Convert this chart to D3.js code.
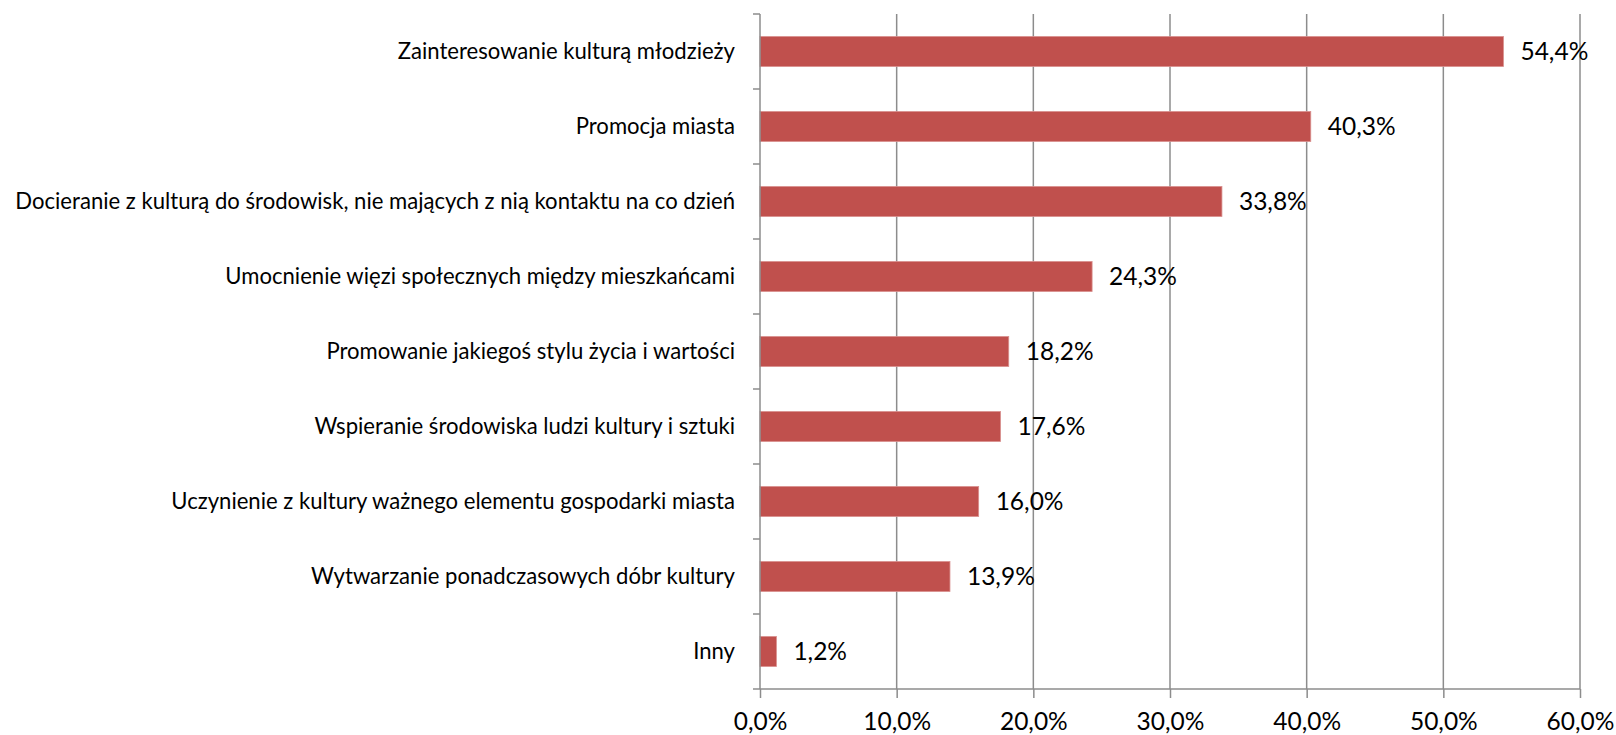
<!DOCTYPE html>
<html>
<head>
<meta charset="utf-8">
<script src="https://cdn.jsdelivr.net/npm/d3@7"></script>
<style>
  body { margin: 0; background: #fff; }
  svg { display: block; }
  svg text { font-family: Lato, "Noto Sans", sans-serif; fill: #000; }
  .catAxis text { font-size: 22.1px; }
  .valAxis text { font-size: 24.5px; }
  .barLabel { font-size: 24.5px; }
</style>
</head>
<body>
<div id="chart"></div>
<script>
var categories = [
  "Zainteresowanie kulturą młodzieży",
  "Promocja miasta",
  "Docieranie z kulturą do środowisk, nie mających z nią kontaktu na co dzień",
  "Umocnienie więzi społecznych między mieszkańcami",
  "Promowanie jakiegoś stylu życia i wartości",
  "Wspieranie środowiska ludzi kultury i sztuki",
  "Uczynienie z kultury ważnego elementu gospodarki miasta",
  "Wytwarzanie ponadczasowych dóbr kultury",
  "Inny"
];
var values = [54.4, 40.3, 33.8, 24.3, 18.2, 17.6, 16.0, 13.9, 1.2];
var xTicks = [0, 10, 20, 30, 40, 50, 60];

(function () {
  'use strict'
  var margin = {top: 14, right: 36, bottom: 46, left: 760},
      W = 1616, H = 735,
      width = W - margin.left - margin.right,
      height = H - margin.top - margin.bottom;

  var fmt = function(d){ return d.toFixed(1).replace(".", ",") + "%"; };

  var x = d3.scaleLinear().domain([0, 60]).range([0, width]);
  var y = d3.scaleBand().domain(categories).range([0, height])
    .paddingInner(0.6).paddingOuter(0.3);

  var svg = d3.select("#chart").append("svg")
    .attr("width", W).attr("height", H)
    .append("g")
    .attr("transform", "translate(" + margin.left + "," + margin.top + ")");

  // vertical gridlines
  svg.append("g").selectAll("line")
    .data(xTicks.slice(1))
    .enter().append("line")
    .attr("x1", function(d){ return x(d); })
    .attr("x2", function(d){ return x(d); })
    .attr("y1", 0).attr("y2", height)
    .attr("stroke", "#8c8c8c").attr("stroke-width", 1.5);

  // bars
  svg.selectAll(".bar")
    .data(values)
    .enter().append("rect")
    .attr("class", "bar")
    .attr("x", x(0))
    .attr("y", function(d, i){ return y(categories[i]); })
    .attr("width", function(d){ return x(d) - x(0); })
    .attr("height", y.bandwidth())
    .attr("fill", "#c0504d")
    .attr("stroke", "#d9908e").attr("stroke-width", 0.8);

  // value labels
  svg.selectAll(".barLabel")
    .data(values)
    .enter().append("text")
    .attr("class", "barLabel")
    .attr("x", function(d){ return x(d) + 17; })
    .attr("y", function(d, i){ return y(categories[i]) + y.bandwidth() / 2; })
    .attr("dy", "0.36em")
    .text(fmt);

  // category axis
  var catAxis = svg.append("g")
    .attr("class", "catAxis")
    .call(d3.axisLeft(y).tickSize(0).tickPadding(25));
  catAxis.select(".domain").remove();

  // band boundary ticks on the left axis
  var step = y.step();
  var bounds = categories.map(function(c){ return y(c) - step * y.paddingInner() / 2; });
  bounds.push(height);
  svg.append("g").selectAll("line")
    .data(bounds)
    .enter().append("line")
    .attr("x1", -7).attr("x2", 0)
    .attr("y1", function(d){ return d; }).attr("y2", function(d){ return d; })
    .attr("stroke", "#8c8c8c").attr("stroke-width", 1.5);
  svg.append("line")
    .attr("x1", 0).attr("x2", 0).attr("y1", 0).attr("y2", height)
    .attr("stroke", "#8c8c8c").attr("stroke-width", 1.5);

  // value axis
  var valAxis = svg.append("g")
    .attr("class", "valAxis")
    .attr("transform", "translate(0," + height + ")")
    .call(d3.axisBottom(x).tickValues(xTicks).tickSize(9).tickPadding(15).tickFormat(fmt));
  valAxis.select(".domain").attr("stroke", "#8c8c8c").attr("stroke-width", 1.5)
    .attr("d", "M0,0H" + width);
  valAxis.selectAll(".tick line").attr("stroke", "#8c8c8c").attr("stroke-width", 1.5);
})()
</script>
</body>
</html>
